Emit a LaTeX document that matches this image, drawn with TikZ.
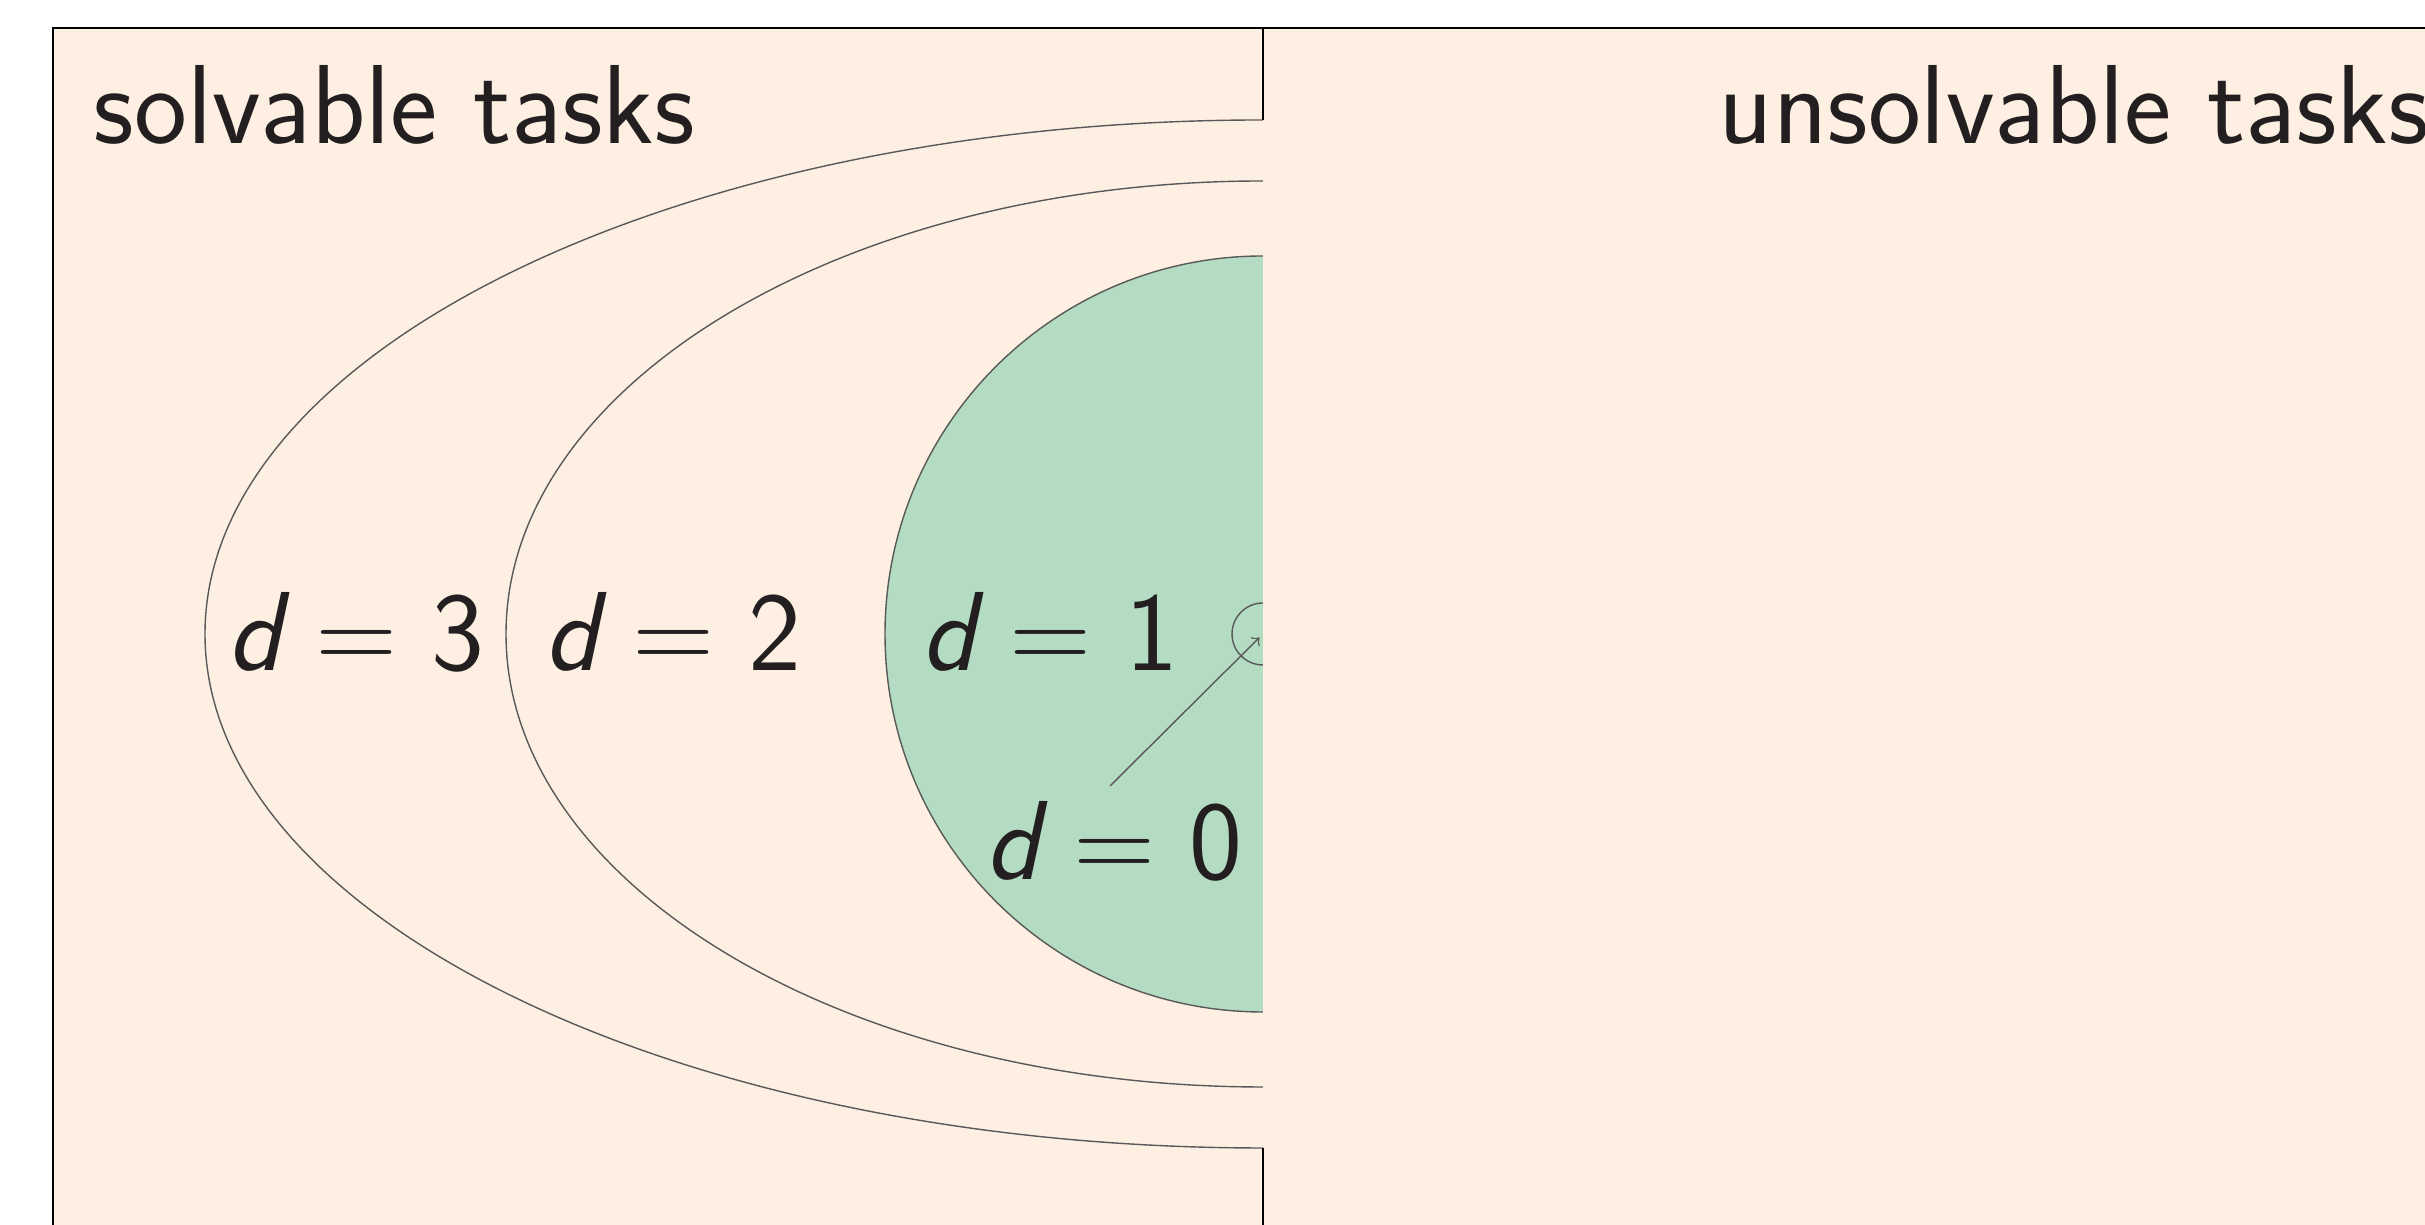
\documentclass[tikz,border=0pt]{standalone}
\usepackage{tikz}
\usetikzlibrary{
  calc,%
  positioning
}
\definecolor{taskcream}{RGB}{253,240,226}
\definecolor{taskgreen}{RGB}{179,220,194}
\definecolor{taskink}{RGB}{35,31,32}
\newcommand{\depthis}[1]{{\slshape d}\hspace{0.3em}=\hspace{0.3em}#1}
\tikzset{>=to}
\tikzset{font=\fontsize{32}{38}\selectfont\sffamily}
\tikzset{dist/.style={anchor=base, text=taskink},
  heading/.style={anchor=base west, inner sep=0pt, text=taskink},
  ring/.style={draw=black!65, thin}}

\begin{document}
\begin{tikzpicture}[x=1cm, y=1cm]
          \clip (0, 0) rectangle (24.25, 12.25); %
          \coordinate (c) at (12.63, 5.91); %
          % solvable side
          \draw[thin, fill=taskcream] (0.53, -1) rectangle (12.63, 11.97); %
          \draw[ring, fill=taskcream] (12.63, 11.05) arc[x radius=10.58, y radius=5.14, start angle=90, end angle=270]; %
          \draw[ring, fill=taskcream] (12.63, 10.44) arc[x radius=7.57, y radius=4.53, start angle=90, end angle=270]; %
          \draw[ring, fill=taskgreen] (12.63, 9.69) arc[radius=3.78, start angle=90, end angle=270]; %
          \node[ring, circle, minimum size=0.62cm, inner sep=0pt] (core) at (c) {}; %
          \coordinate (tail) at (11.10, 4.39); %
          \draw[ring, ->, shorten >=0.05cm] (tail) -- (core.center); %
          \node[dist] (d3) at (3.56, 5.54) {\depthis{3}}; %
          \node[dist] (d2) at (6.73, 5.54) {\depthis{2}}; %
          \node[dist] (d1) at (10.50, 5.54) {\depthis{1}}; %
          \node[dist] (d0) at (11.14, 3.45) {\depthis{0}}; %
          \node[heading] (solv) at (0.93, 10.81) {solvable tasks}; %
          % unsolvable side
          \fill[taskcream] (12.63, -1) rectangle (25, 11.97); %
          \draw[thin] (12.63, 11.97) -- (25, 11.97); %
          \draw[thin] (12.63, 11.97) -- (12.63, 11.05) (12.63, 0.77) -- (12.63, -1); %
          \node[heading] (unsolv) at (17.18, 10.81) {unsolvable tasks}; %
        \end{tikzpicture}
\end{document}
